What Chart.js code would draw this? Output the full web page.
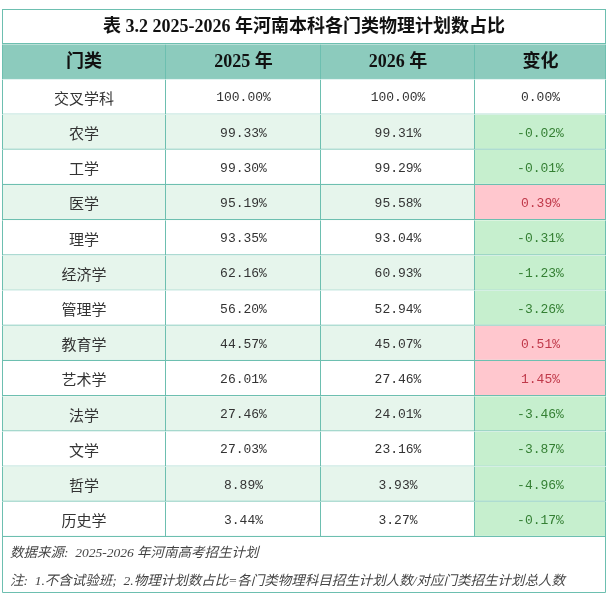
<!DOCTYPE html>
<html lang="zh">
<head>
  <meta charset="UTF-8">
  <title>2025-2026 年河南本科各门类物理计划数占比</title>
  <script src="https://cdn.jsdelivr.net/npm/chart.js"></script>
  <style>
    html, body {
      margin: 0;
      padding: 0;
      background: #ffffff;
    }

    .wrap {
      position: relative;
      width: 613px;
      height: 595px;
    }
  </style>
</head>
<body>
  <div class="wrap">
    <canvas id="planTable"></canvas>
  </div>

  <script>
    const title = '表 3.2 2025-2026 年河南本科各门类物理计划数占比';
    const headers = ['门类', '2025 年', '2026 年', '变化'];
    const categories = ['交叉学科', '农学', '工学', '医学', '理学', '经济学', '管理学', '教育学', '艺术学', '法学', '文学', '哲学', '历史学'];
    const share2025 = [100.00, 99.33, 99.30, 95.19, 93.35, 62.16, 56.20, 44.57, 26.01, 27.46, 27.03, 8.89, 3.44];
    const share2026 = [100.00, 99.31, 99.29, 95.58, 93.04, 60.93, 52.94, 45.07, 27.46, 24.01, 23.16, 3.93, 3.27];
    const change = [0.00, -0.02, -0.01, 0.39, -0.31, -1.23, -3.26, 0.51, 1.45, -3.46, -3.87, -4.96, -0.17];
    const notes = [
      '数据来源:  2025-2026 年河南高考招生计划',
      '注:  1.不含试验班;  2.物理计划数占比=各门类物理科目招生计划人数/对应门类招生计划总人数'
    ];

    // layout: column borders on the x scale (0 .. tableWidth)
    const tableWidth = 604;
    const colEdges = [0, 164, 319, 473, tableWidth];

    const LINE = '#6dbfb0';
    const HEAD_BG = '#8ccbbd';
    const STRIPE = '#e6f5ec';
    const GOOD_BG = '#c6efce';
    const BAD_BG = '#ffc7ce';

    // rows on the category axis: title, header, then one per 门类
    const rowKeys = ['title', 'header'].concat(categories);

    function cellFill(r, c) {
      if (r === 0) return '#ffffff';
      if (r === 1) return HEAD_BG;
      const i = r - 2;
      if (c === 3 && change[i] < 0) return GOOD_BG;
      if (c === 3 && change[i] > 0) return BAD_BG;
      return i % 2 === 1 ? STRIPE : '#ffffff';
    }

    function cellText(r, c) {
      if (r === 0) return title;
      if (r === 1) return headers[c];
      const i = r - 2;
      if (c === 0) return categories[i];
      if (c === 1) return share2025[i].toFixed(2) + '%';
      if (c === 2) return share2026[i].toFixed(2) + '%';
      return change[i].toFixed(2) + '%';
    }

    function cellStyle(r, c) {
      if (r <= 1) return { font: 'bold 18px "Liberation Serif", "Noto Sans CJK SC"', color: '#111' };
      const i = r - 2;
      if (c === 0) return { font: '15px "Noto Sans CJK SC"', color: '#333' };
      let color = '#333';
      if (c === 3 && change[i] < 0) color = '#347f33';
      if (c === 3 && change[i] > 0) color = '#c0394a';
      return { font: '13px "Liberation Mono", "Noto Sans CJK SC"', color: color };
    }

    const datasets = [0, 1, 2, 3].map(c => ({
      data: rowKeys.map((k, r) => {
        if (r === 0) return c === 0 ? [0, tableWidth] : null;
        return [colEdges[c], colEdges[c + 1]];
      }),
      backgroundColor: ctx => cellFill(ctx.dataIndex, c),
      borderColor: LINE,
      borderWidth: ctx => ({
        left: c === 0 ? 1 : 0,
        top: ctx.dataIndex === 0 ? 1 : 0,
        right: 1,
        bottom: 1.2
      }),
      borderSkipped: false,
      inflateAmount: 0,
      grouped: false,
      barPercentage: 1,
      categoryPercentage: 1
    }));

    const textPlugin = {
      id: 'cellText',
      afterDatasetsDraw(chart) {
        const ctx = chart.ctx;
        ctx.save();
        ctx.textAlign = 'center';
        ctx.textBaseline = 'middle';
        chart.data.datasets.forEach((ds, c) => {
          chart.getDatasetMeta(c).data.forEach((bar, r) => {
            if (ds.data[r] == null) return;
            const p = bar.getProps(['x', 'y', 'base'], true);
            const st = cellStyle(r, c);
            ctx.font = st.font;
            ctx.fillStyle = st.color;
            ctx.fillText(cellText(r, c), (p.x + p.base) / 2, p.y + 1);
          });
        });
        ctx.restore();
      },
      afterDraw(chart) {
        // note box under the table
        const ctx = chart.ctx;
        const a = chart.chartArea;
        const bottom = chart.height - 2;
        ctx.save();
        ctx.strokeStyle = LINE;
        ctx.lineWidth = 1;
        ctx.beginPath();
        ctx.moveTo(a.left + 0.5, a.bottom);
        ctx.lineTo(a.left + 0.5, bottom - 0.5);
        ctx.lineTo(a.right - 0.5, bottom - 0.5);
        ctx.lineTo(a.right - 0.5, a.bottom);
        ctx.stroke();
        ctx.font = 'italic 13.5px "Liberation Serif", "Noto Sans CJK SC"';
        ctx.fillStyle = '#444';
        ctx.textAlign = 'left';
        ctx.textBaseline = 'middle';
        ctx.fillText(notes[0], a.left + 8, a.bottom + 16);
        ctx.fillText(notes[1], a.left + 8, a.bottom + 44);
        ctx.restore();
      }
    };

    new Chart(document.getElementById('planTable'), {
      type: 'bar',
      data: {
        labels: rowKeys,
        datasets: datasets
      },
      options: {
        indexAxis: 'y',
        responsive: true,
        maintainAspectRatio: false,
        animation: false,
        events: [],
        layout: {
          padding: { left: 2, right: 7, top: 9, bottom: 58 }
        },
        plugins: {
          legend: { display: false },
          tooltip: { enabled: false }
        },
        scales: {
          x: { type: 'linear', min: 0, max: tableWidth, display: false },
          y: { type: 'category', display: false, offset: true }
        }
      },
      plugins: [textPlugin]
    });
  </script>
</body>
</html>
